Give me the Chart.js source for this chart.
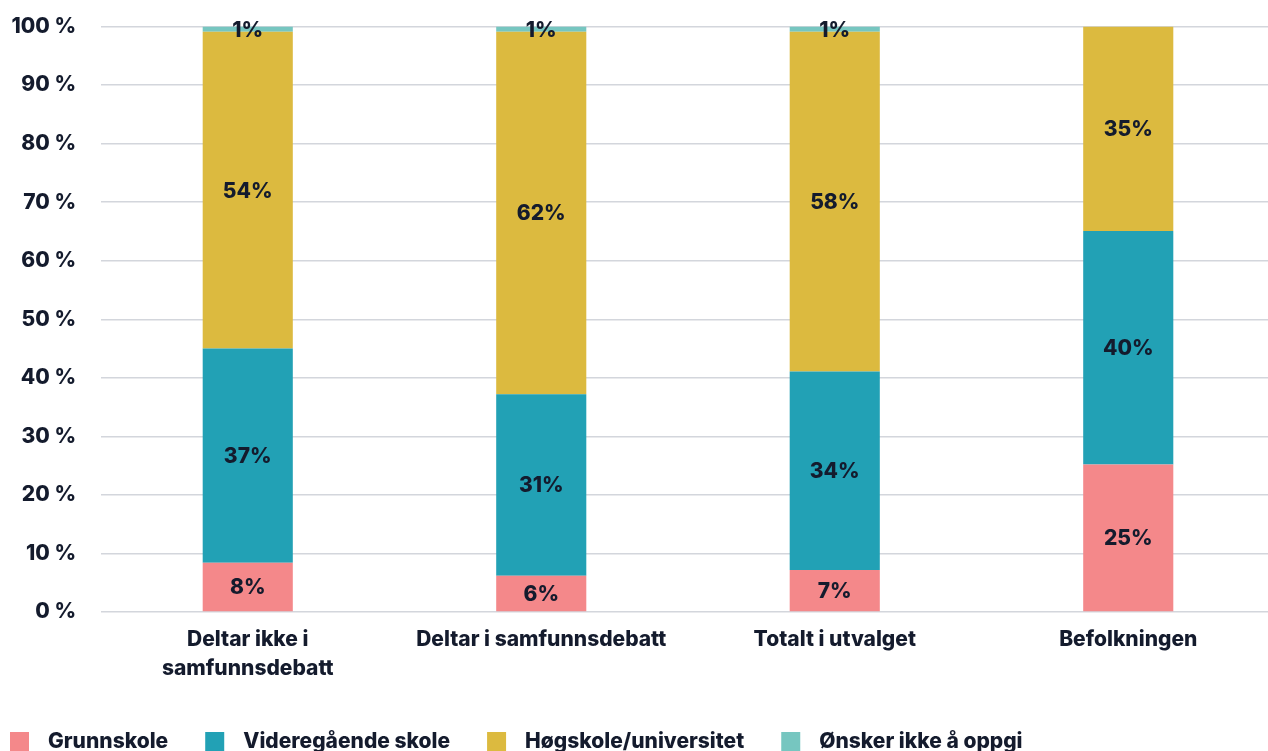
<!DOCTYPE html>
<html>
<head>
<meta charset="utf-8">
<script src="https://cdn.jsdelivr.net/npm/chart.js@4.4.0/dist/chart.umd.min.js"></script>
<style>
  html, body { margin: 0; padding: 0; background: #ffffff; overflow: hidden; }
  #wrap { position: relative; top: -11px; width: 1275px; height: 772px; }
</style>
</head>
<body>
<div id="wrap"><canvas id="c"></canvas></div>
<script>
const categories = [["Deltar ikke i", "samfunnsdebatt"], "Deltar i samfunnsdebatt", "Totalt i utvalget", "Befolkningen"];
const grunnskole = [8.4, 6.2, 7.2, 25.2];
const videregaende = [36.6, 31.0, 33.9, 39.9];
const hogskole = [54.1, 61.9, 58.0, 34.9];
const onskerIkke = [0.9, 0.9, 0.9, 0];
const seriesNames = ["Grunnskole", "Videregående skole", "Høgskole/universitet", "Ønsker ikke å oppgi"];
const yTicks = [0, 10, 20, 30, 40, 50, 60, 70, 80, 90, 100];

const FONT = "Inter, 'DejaVu Sans', sans-serif";
const FW = 800;
const FS = 21;
const DARK = "#141b2d";
const colors = ["#f4888a", "#22a1b5", "#dcba3f", "#76c6c0"];

const labelPlugin = {
  id: 'segLabels',
  afterDatasetsDraw(chart) {
    const ctx = chart.ctx;
    ctx.save();
    ctx.font = FW + " " + FS + "px " + FONT;
    ctx.fillStyle = DARK;
    ctx.textAlign = 'center';
    ctx.textBaseline = 'middle';
    chart.data.datasets.forEach((ds, di) => {
      const meta = chart.getDatasetMeta(di);
      meta.data.forEach((bar, i) => {
        const v = ds.data[i];
        if (!v) return;
        const y = (bar.y + bar.base) / 2;
        ctx.fillText(Math.round(v) + '%', bar.x, y + 1);
      });
    });
    ctx.restore();
  }
};

// legend drawn from the datasets (left aligned, square boxes)
const legendPlugin = {
  id: 'customLegend',
  afterDraw(chart) {
    const ctx = chart.ctx;
    ctx.save();
    ctx.font = FW + " " + FS + "px " + FONT;
    ctx.textBaseline = 'middle';
    ctx.textAlign = 'left';
    let x = 10;
    const boxTop = 743; // canvas coords (wrapper shifted up 11px)
    chart.data.datasets.forEach(ds => {
      ctx.fillStyle = ds.backgroundColor;
      ctx.fillRect(x, boxTop, 19, 19);
      ctx.fillStyle = DARK;
      const tx = x + 38;
      ctx.fillText(ds.label, tx, boxTop + 10);
      x = tx + ctx.measureText(ds.label).width + 37;
    });
    ctx.restore();
  }
};

const seriesData = [grunnskole, videregaende, hogskole, onskerIkke];

new Chart(document.getElementById('c'), {
  type: 'bar',
  data: {
    labels: categories,
    datasets: seriesNames.map((n, k) => ({
      label: n,
      data: seriesData[k],
      backgroundColor: colors[k],
      borderWidth: 0,
      barPercentage: 0.307,
      categoryPercentage: 1.0
    }))
  },
  options: {
    responsive: true,
    maintainAspectRatio: false,
    animation: false,
    layout: { padding: { top: 7, left: 0, right: 0, bottom: 65 } },
    scales: {
      x: {
        stacked: true,
        grid: { display: false, drawTicks: false },
        border: { display: false },
        ticks: {
          color: DARK,
          font: { family: FONT, size: FS, weight: FW, lineHeight: 1.38 },
          padding: 13,
          maxRotation: 0,
          autoSkip: false
        }
      },
      y: {
        stacked: true,
        min: 0,
        max: 100,
        afterBuildTicks(axis) { axis.ticks = yTicks.map(v => ({ value: v })); },
        afterFit(axis) { axis.width = 101; },
        grid: { color: "#d3d6dc", lineWidth: 1.5, drawTicks: false },
        border: { display: false },
        ticks: {
          color: DARK,
          font: { family: FONT, size: FS, weight: FW },
          padding: 25,
          callback: v => v + ' %'
        }
      }
    },
    plugins: {
      legend: { display: false },
      tooltip: { enabled: false }
    }
  },
  plugins: [labelPlugin, legendPlugin]
});
</script>
</body>
</html>
